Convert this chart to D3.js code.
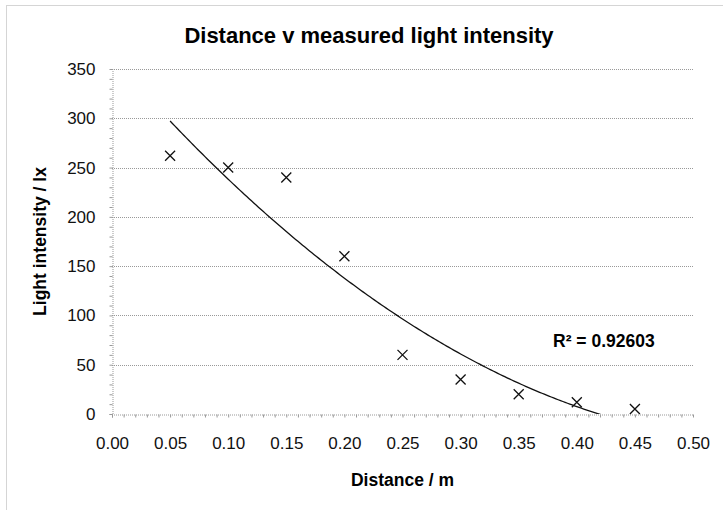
<!DOCTYPE html>
<html><head><meta charset="utf-8">
<script src="https://cdn.jsdelivr.net/npm/d3@7/dist/d3.min.js"></script>
<style>body{margin:0;background:#fff}svg{display:block;font-family:"Liberation Sans",Arial,sans-serif}</style>
</head><body>
<svg id="c" width="723" height="510"></svg>
<script>
const distance = [0.05, 0.10, 0.15, 0.20, 0.25, 0.30, 0.35, 0.40, 0.45];
const intensity = [262, 250, 240, 160, 60, 35, 20, 12, 5];
const xTicks = [0, 0.05, 0.10, 0.15, 0.20, 0.25, 0.30, 0.35, 0.40, 0.45, 0.50];
const yTicks = [0, 50, 100, 150, 200, 250, 300, 350];
const titleText = "Distance v measured light intensity";
const xTitle = "Distance / m";
const yTitle = "Light intensity / lx";
const r2Label = "R\u00B2 = 0.92603";

const svg = d3.select("#c");
const L = 112, R = 693, T = 69, B = 414;
const x = d3.scaleLinear().domain([0, 0.5]).range([L, R]);
const y = d3.scaleLinear().domain([0, 350]).range([B, T]);

// outer border
svg.append("rect").attr("x", 6.5).attr("y", 5.5).attr("width", 740).attr("height", 540)
  .attr("fill", "none").attr("stroke", "#aaa").attr("stroke-dasharray", "1,1");

// title
svg.append("text").attr("x", 369).attr("y", 43).attr("text-anchor", "middle")
  .attr("font-weight", "bold").attr("font-size", 22).text(titleText);

// gridlines
svg.append("g").selectAll("line").data(yTicks.filter(d => d > 0)).join("line")
  .attr("x1", L).attr("x2", R).attr("y1", d => Math.round(y(d)) + 0.5).attr("y2", d => Math.round(y(d)) + 0.5)
  .attr("stroke", "#999").attr("stroke-dasharray", "1,1");

// axes
const xAxis = d3.axisBottom(x).tickValues(d3.range(0, 0.5001, 0.01)).tickSize(3).tickFormat("");
const gx = svg.append("g").attr("transform", `translate(0,${B + 0.5})`).call(xAxis);
const gxMaj = svg.append("g").attr("transform", `translate(0,${B + 0.5})`)
  .call(d3.axisBottom(x).tickValues(xTicks).tickSize(0).tickPadding(22).tickFormat(d3.format(".2f")));
const yAxis = d3.axisLeft(y).tickValues(d3.range(0, 350.1, 10)).tickSize(3).tickFormat("");
const gy = svg.append("g").attr("transform", `translate(${L + 0.5},0)`).call(yAxis);
const gyMaj = svg.append("g").attr("transform", `translate(${L + 0.5},0)`)
  .call(d3.axisLeft(y).tickValues(yTicks).tickSize(0).tickPadding(17));
[gx, gy, gxMaj, gyMaj].forEach(g => {
  g.selectAll("path.domain").attr("stroke", "#999").attr("stroke-dasharray", "1,1");
  g.selectAll(".tick line").attr("stroke", "#999");
  g.selectAll("text").attr("font-size", 17).attr("fill", "#111").attr("font-family", '"Liberation Sans",Arial,sans-serif');
});
gxMaj.select("path.domain").remove();
gyMaj.select("path.domain").remove();

// axis titles
svg.append("text").attr("x", (L + R) / 2).attr("y", 486).attr("text-anchor", "middle")
  .attr("font-weight", "bold").attr("font-size", 17.5).text(xTitle);
svg.append("text").attr("transform", `translate(46,${(T + B) / 2}) rotate(-90)`).attr("text-anchor", "middle")
  .attr("font-weight", "bold").attr("font-size", 17.5).text(yTitle);

// quadratic least-squares trendline
const n = distance.length;
let S = Array(5).fill(0), Sy = Array(3).fill(0);
distance.forEach((xi, i) => { for (let k = 0; k < 5; k++) S[k] += xi ** k; for (let k = 0; k < 3; k++) Sy[k] += intensity[i] * xi ** k; });
const A = [[S[0], S[1], S[2], Sy[0]], [S[1], S[2], S[3], Sy[1]], [S[2], S[3], S[4], Sy[2]]];
for (let i = 0; i < 3; i++) { for (let j = i + 1; j < 3; j++) { const f = A[j][i] / A[i][i]; for (let k = i; k < 4; k++) A[j][k] -= f * A[i][k]; } }
const coef = [0, 0, 0];
for (let i = 2; i >= 0; i--) { let s = A[i][3]; for (let k = i + 1; k < 3; k++) s -= A[i][k] * coef[k]; coef[i] = s / A[i][i]; }
const fit = t => coef[0] + coef[1] * t + coef[2] * t * t;
const xs = d3.range(distance[0], distance[n - 1] + 1e-9, 0.002);
svg.append("clipPath").attr("id", "clip").append("rect").attr("x", L).attr("y", T).attr("width", R - L).attr("height", B - T);
svg.append("path").datum(xs).attr("clip-path", "url(#clip)")
  .attr("d", d3.line().x(d => x(d)).y(d => y(fit(d))))
  .attr("fill", "none").attr("stroke", "#111").attr("stroke-width", 1.3);

// markers
const s = 5;
svg.append("g").selectAll("path").data(distance.map((d, i) => [d, intensity[i]])).join("path")
  .attr("d", d => { const cx = x(d[0]), cy = y(d[1]); return `M${cx - s},${cy - s}L${cx + s},${cy + s}M${cx - s},${cy + s}L${cx + s},${cy - s}`; })
  .attr("stroke", "#111").attr("stroke-width", 1.3).attr("fill", "none");

// R² label
svg.append("text").attr("x", 553).attr("y", 347).attr("font-weight", "bold").attr("font-size", 17.5).text(r2Label);
</script>
</body></html>
